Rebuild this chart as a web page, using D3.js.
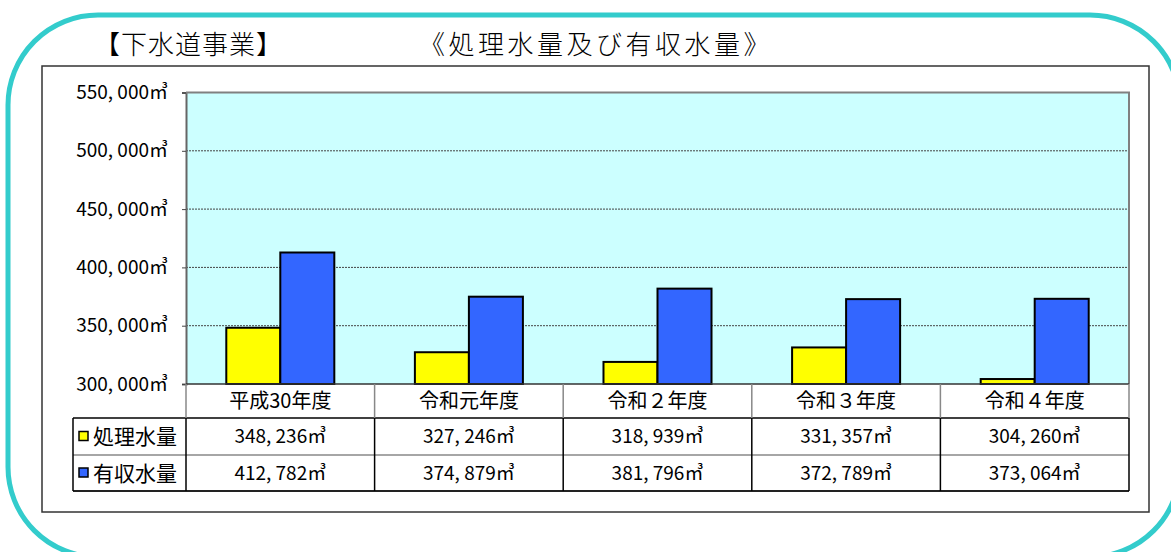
<!DOCTYPE html>
<html>
<head>
<meta charset="utf-8">
<script src="https://cdn.jsdelivr.net/npm/d3@7"></script>
<style>
    body { margin: 0; background: #fff; }
    text { font-family: "Noto Sans CJK JP", "Noto Sans", sans-serif; fill: #000; }
</style>
</head>
<body>
<div id="chart"></div>
<script>
// data
const categories = ["平成30年度", "令和元年度", "令和２年度", "令和３年度", "令和４年度"];
const seriesNames = ["処理水量", "有収水量"];
const treated = [348236, 327246, 318939, 331357, 304260];
const billed = [412782, 374879, 381796, 372789, 373064];
const yTicks = [300000, 350000, 400000, 450000, 500000, 550000];
const seriesColors = ["#FFFF00", "#3366FF"];

const W = 1171, H = 552;
const svg = d3.select("#chart").append("svg")
    .attr("width", W)
    .attr("height", H);

// teal rounded frame
svg.append("rect")
    .attr("x", 8).attr("y", 15)
    .attr("width", 1172).attr("height", 542)
    .attr("rx", 90).attr("ry", 90)
    .attr("fill", "none")
    .attr("stroke", "#33CCCC")
    .attr("stroke-width", 5);

// headings
svg.append("text")
    .attr("x", 94).attr("y", 54)
    .style("font-size", "26px")
    .style("font-weight", 300)
    .style("letter-spacing", "1px")
    .text("【下水道事業】");

svg.append("text")
    .attr("x", 596).attr("y", 54)
    .attr("text-anchor", "middle")
    .style("font-size", "26px")
    .style("font-weight", 300)
    .style("letter-spacing", "3.5px")
    .text("《処理水量及び有収水量》");

// chart frame
svg.append("rect")
    .attr("x", 42).attr("y", 66)
    .attr("width", 1107).attr("height", 446)
    .attr("fill", "#fff")
    .attr("stroke", "#333")
    .attr("stroke-width", 1.5);

const plot = {left: 186, right: 1129, top: 92.5, bottom: 384};

let x0 = d3.scaleBand()
    .domain(categories)
    .range([plot.left, plot.right])
    .padding(0);

let x1 = d3.scaleBand()
    .domain(seriesNames)
    .range([0, x0.bandwidth()])
    .paddingInner(0)
    .paddingOuter(0.746);

let y = d3.scaleLinear()
    .domain([300000, 550000])
    .range([plot.bottom, plot.top]);

const fmt = v => d3.format(",")(v).replace(/,/g, ", ") + "㎥";

// plot background
svg.append("rect")
    .attr("x", plot.left).attr("y", plot.top)
    .attr("width", plot.right - plot.left)
    .attr("height", plot.bottom - plot.top)
    .attr("fill", "#CCFFFF");

// gridlines
svg.append("g")
    .selectAll("line")
    .data(yTicks.slice(1, -1))
    .enter().append("line")
    .attr("x1", plot.left).attr("x2", plot.right)
    .attr("y1", d => y(d)).attr("y2", d => y(d))
    .attr("stroke", "#444")
    .attr("stroke-width", 1)
    .attr("stroke-dasharray", "2,1");

// y axis
let yAxis = svg.append("g")
    .attr("transform", `translate(${plot.left}, 0)`)
    .call(d3.axisLeft(y).tickValues(yTicks).tickSize(4).tickFormat(fmt));
yAxis.select(".domain").attr("stroke", "#666").attr("stroke-width", 2);
yAxis.selectAll(".tick line").attr("stroke", "#444");
yAxis.selectAll(".tick text")
    .attr("x", -18)
    .style("font-size", "19px")
    .style("font-family", "\"Noto Sans CJK JP\", sans-serif")
    .attr("fill", "#000");

// plot border (top/right)
svg.append("path")
    .attr("d", `M${plot.left},${plot.top}H${plot.right}V${plot.bottom}`)
    .attr("fill", "none")
    .attr("stroke", "#808080")
    .attr("stroke-width", 2);

// bars
const rows = categories.map((c, i) => ({key: c, values: [treated[i], billed[i]]}));

let groups = svg.append("g")
    .selectAll("g")
    .data(rows)
    .enter().append("g")
    .attr("transform", d => `translate(${x0(d.key)}, 0)`);

groups.selectAll("rect")
    .data(d => d.values.map((v, j) => ({name: seriesNames[j], value: v, color: seriesColors[j]})))
    .enter().append("rect")
    .attr("x", d => x1(d.name))
    .attr("y", d => y(d.value))
    .attr("width", x1.bandwidth())
    .attr("height", d => y(300000) - y(d.value))
    .attr("fill", d => d.color)
    .attr("stroke", "#000")
    .attr("stroke-width", 2);

// x axis line
svg.append("line")
    .attr("x1", plot.left).attr("x2", plot.right)
    .attr("y1", plot.bottom).attr("y2", plot.bottom)
    .attr("stroke", "#333")
    .attr("stroke-width", 1.5);

// data table
const table = {left: 73, r0: 384, r1: 418, r2: 455, r3: 491};
let tbl = svg.append("g");

// horizontal lines
tbl.append("line")
    .attr("x1", table.left).attr("x2", plot.right)
    .attr("y1", table.r1).attr("y2", table.r1)
    .attr("stroke", "#000").attr("stroke-width", 1.5);
tbl.append("line")
    .attr("x1", table.left).attr("x2", plot.right)
    .attr("y1", table.r2).attr("y2", table.r2)
    .attr("stroke", "#888").attr("stroke-width", 1.5);
tbl.append("line")
    .attr("x1", table.left).attr("x2", plot.right)
    .attr("y1", table.r3).attr("y2", table.r3)
    .attr("stroke", "#222").attr("stroke-width", 2);

// vertical lines
const vx = categories.map(c => x0(c)).concat([plot.right]);
tbl.selectAll(".vcat")
    .data(vx)
    .enter().append("line")
    .attr("class", "vcat")
    .attr("x1", d => d).attr("x2", d => d)
    .attr("y1", table.r0).attr("y2", table.r1)
    .attr("stroke", "#888").attr("stroke-width", 1.5);
tbl.selectAll(".vdat")
    .data([table.left].concat(vx))
    .enter().append("line")
    .attr("class", "vdat")
    .attr("x1", d => d).attr("x2", d => d)
    .attr("y1", table.r1).attr("y2", table.r3)
    .attr("stroke", "#000").attr("stroke-width", 1.5);

// category labels
tbl.selectAll(".cat")
    .data(categories)
    .enter().append("text")
    .attr("class", "cat")
    .attr("x", d => x0(d) + x0.bandwidth() / 2)
    .attr("y", (table.r0 + table.r1) / 2)
    .attr("dy", "0.36em")
    .attr("text-anchor", "middle")
    .style("font-size", "20px")
    .text(d => d);

// series rows
const seriesRows = [treated, billed];
const rowY = [(table.r1 + table.r2) / 2, (table.r2 + table.r3) / 2];

seriesRows.forEach((vals, j) => {
    tbl.append("rect")
        .attr("x", 79).attr("y", rowY[j] - 5)
        .attr("width", 9).attr("height", 9)
        .attr("fill", seriesColors[j])
        .attr("stroke", "#000")
        .attr("stroke-width", 1.5);
    tbl.append("text")
        .attr("x", 93).attr("y", rowY[j])
        .attr("dy", "0.36em")
        .style("font-size", "21px")
        .text(seriesNames[j]);
    tbl.selectAll(".val" + j)
        .data(vals)
        .enter().append("text")
        .attr("class", "val" + j)
        .attr("x", (d, i) => x0(categories[i]) + x0.bandwidth() / 2)
        .attr("y", rowY[j])
        .attr("dy", "0.36em")
        .attr("text-anchor", "middle")
        .style("font-size", "19px")
        .text(d => fmt(d));
});
</script>
</body>
</html>
